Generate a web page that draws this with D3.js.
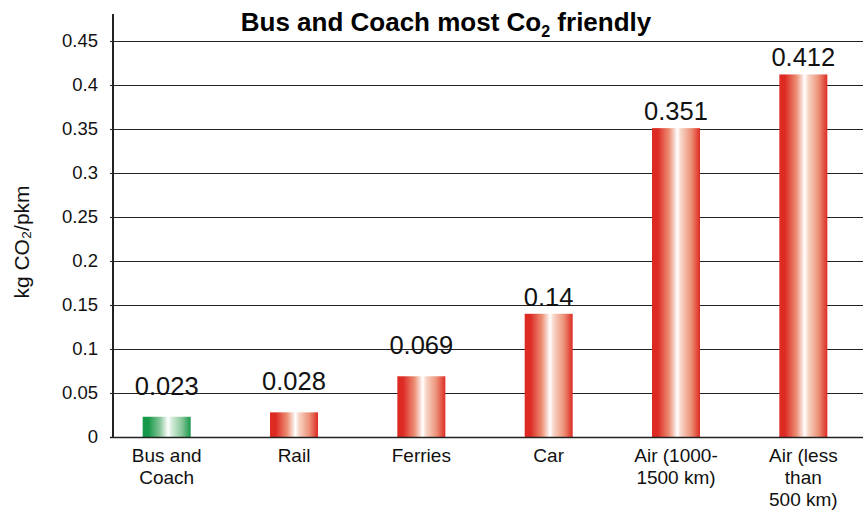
<!DOCTYPE html>
<html>
<head>
<meta charset="utf-8">
<script src="https://cdn.jsdelivr.net/npm/d3@7/dist/d3.min.js"></script>
<style>
  html, body { margin: 0; padding: 0; background: #fff; }
  svg { display: block; font-family: "Liberation Sans", Arial, Helvetica, sans-serif; }
</style>
</head>
<body>
<svg id="chart" width="863" height="510"></svg>
<script>
const categories = [
  ["Bus and", "Coach"],
  ["Rail"],
  ["Ferries"],
  ["Car"],
  ["Air (1000-", "1500 km)"],
  ["Air (less", "than", "500 km)"]
];
const values = [0.023, 0.028, 0.069, 0.14, 0.351, 0.412];
const valueLabels = ["0.023", "0.028", "0.069", "0.14", "0.351", "0.412"];
const barColors = ["green", "red", "red", "red", "red", "red"];
const yTicks = [0, 0.05, 0.1, 0.15, 0.2, 0.25, 0.3, 0.35, 0.4, 0.45];
const yTickLabels = ["0", "0.05", "0.1", "0.15", "0.2", "0.25", "0.3", "0.35", "0.4", "0.45"];
const titleMain = "Bus and Coach most Co";
const titleSub = "2";
const titleEnd = " friendly";
const yAxisTitle = "kg CO\u2082/pkm";

const W = 863, H = 510;
const svg = d3.select("#chart");

const x = d3.scaleBand()
  .domain(d3.range(values.length))
  .range([103, 867])
  .paddingInner(0.623)
  .paddingOuter(0.3115);

const y = d3.scaleLinear().domain([0, 0.45]).range([437, 41]);

const axisX = 113;

// gradients
const defs = svg.append("defs");
function grad(id, edge, mid, light) {
  const g = defs.append("linearGradient").attr("id", id)
    .attr("x1", "0%").attr("x2", "100%").attr("y1", "0%").attr("y2", "0%");
  g.append("stop").attr("offset", "0%").attr("stop-color", edge);
  g.append("stop").attr("offset", "12%").attr("stop-color", edge);
  g.append("stop").attr("offset", "36%").attr("stop-color", mid);
  g.append("stop").attr("offset", "53%").attr("stop-color", "#ffffff");
  g.append("stop").attr("offset", "60%").attr("stop-color", light);
  g.append("stop").attr("offset", "82%").attr("stop-color", mid);
  g.append("stop").attr("offset", "100%").attr("stop-color", edge);
}
grad("grad-red", "#dd2b24", "#ec9076", "#f8d6c8");
grad("grad-green", "#17994a", "#86c598", "#d8eedd");

// gridlines
svg.append("g").selectAll("line").data(yTicks).join("line")
  .attr("x1", axisX - 3).attr("x2", W)
  .attr("y1", d => Math.round(y(d)) + 0.5).attr("y2", d => Math.round(y(d)) + 0.5)
  .attr("stroke", "#222").attr("stroke-width", 1.2);

// y axis line
svg.append("line")
  .attr("x1", axisX).attr("x2", axisX).attr("y1", 14).attr("y2", y(0) + 1)
  .attr("stroke", "#222").attr("stroke-width", 2);

// y tick labels
svg.append("g").selectAll("text").data(yTicks).join("text")
  .attr("x", 98).attr("y", d => y(d))
  .attr("dy", "0.35em")
  .attr("text-anchor", "end")
  .attr("font-size", 18.5).attr("fill", "#111")
  .text((d, i) => yTickLabels[i]);

// bars
svg.append("g").selectAll("rect").data(values).join("rect")
  .attr("x", (d, i) => x(i))
  .attr("width", x.bandwidth())
  .attr("y", d => y(d))
  .attr("height", d => y(0) - y(d))
  .attr("fill", (d, i) => barColors[i] === "green" ? "url(#grad-green)" : "url(#grad-red)");

// baseline redraw on top
svg.append("line")
  .attr("x1", axisX - 3).attr("x2", W)
  .attr("y1", Math.round(y(0)) + 0.5).attr("y2", Math.round(y(0)) + 0.5)
  .attr("stroke", "#222").attr("stroke-width", 1.5);

// value labels
svg.append("g").selectAll("text").data(values).join("text")
  .attr("x", (d, i) => x(i) + x.bandwidth() / 2)
  .attr("y", d => y(d) - (d < 0.1 ? 22 : 8))
  .attr("text-anchor", "middle")
  .attr("font-size", 25.5).attr("fill", "#111")
  .text((d, i) => valueLabels[i]);

// x labels
const xl = svg.append("g").selectAll("text").data(categories).join("text")
  .attr("text-anchor", "middle")
  .attr("font-size", 19).attr("fill", "#111");
xl.each(function(lines, i) {
  const t = d3.select(this);
  lines.forEach((ln, j) => {
    t.append("tspan")
      .attr("x", x(i) + x.bandwidth() / 2)
      .attr("y", 462 + j * 22)
      .text(ln);
  });
});

// title
const title = svg.append("text")
  .attr("x", 446).attr("y", 31)
  .attr("text-anchor", "middle")
  .attr("font-size", 26).attr("font-weight", "bold").attr("fill", "#000");
title.append("tspan").text(titleMain);
title.append("tspan").attr("font-size", 16).attr("dy", 6).text(titleSub);
title.append("tspan").attr("dy", -6).text(titleEnd);

// y axis title
svg.append("text")
  .attr("transform", "translate(29,242) rotate(-90)")
  .attr("text-anchor", "middle")
  .attr("font-size", 21).attr("fill", "#111")
  .text(yAxisTitle);
</script>
</body>
</html>
